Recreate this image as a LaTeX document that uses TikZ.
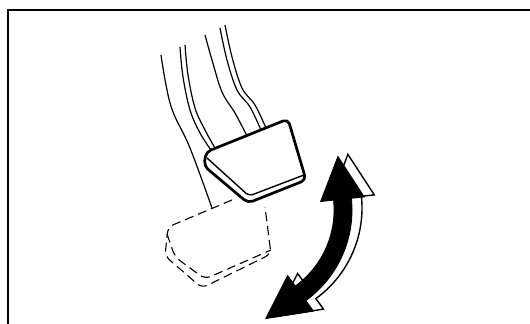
\documentclass[tikz,border=0pt]{standalone}
\newcommand\swingarrow[1]{%
  \draw[#1] (333.5,200.2) -- (320.6,201.5) -- (337.9,156.4) -- (364.3,196.9) -- (351.4,198.3)
    arc[start angle=-6, end angle=54, radius=112] -- (313.5,311.1) -- (265.7,318.6)
    -- (287.6,275.5) -- (295.3,286.0) arc[start angle=54, end angle=-6, radius=94] -- cycle;}
\tikzset{
  arm/.style={line width=0.6pt},
  pad/.style={line width=1.35pt,line join=round,rounded corners=2.5pt},
  padrim/.style={line width=0.7pt,rounded corners=2pt},
  ghost/.style={line width=0.55pt,dash pattern=on 4.5pt off 2.5pt,rounded corners=3pt},
  swing/.style={fill=black,draw=black,line width=0.4pt,line join=miter},
  swingside/.style={fill=white,draw=black,line width=0.7pt,line join=miter}}
\begin{document}
\begin{tikzpicture}[x=0.5pt,y=-0.5pt]
\useasboundingbox (0,0) rectangle (530,324);
\draw[line width=0.8pt] (8,324) -- (8,10) -- (530,10);
\draw[arm] plot[smooth,tension=.6] coordinates {(161,55) (166,85) (173,112) (190,148) (212,208)};
\draw[arm] plot[smooth,tension=.6] coordinates {(180,47) (183,77) (190,110) (200,133) (211,150)};
\draw[arm] plot[smooth,tension=.6] coordinates {(185,45) (188,75) (195,108) (205,130) (215,148)};
\draw[arm] plot[smooth,tension=.6] coordinates {(205,35) (212,60) (222,92) (235,113) (247,136)};
\draw[arm] plot[smooth,tension=.6] coordinates {(220,28) (227,60) (237,90) (250,107) (261,130)};
\draw[arm] plot[smooth,tension=.6] coordinates {(225,25) (232,57) (242,88) (255,105) (266,128)};
\draw[ghost] (232,200) -- (168,227) -- (165,256) -- (202,288) -- (271,254) -- (265,207);
\draw[ghost] (167,234) -- (175,257) -- (205,279) -- (271,250);
\filldraw[pad,fill=white] (206,152) -- (288,119) -- (306,180) -- (248,203) -- (204,166) -- cycle;
\draw[padrim] (207,158) -- (249,196) -- (304,175);
\swingarrow{swingside,shift={(10,-2)}}
\swingarrow{swing}
\end{tikzpicture}
\end{document}
